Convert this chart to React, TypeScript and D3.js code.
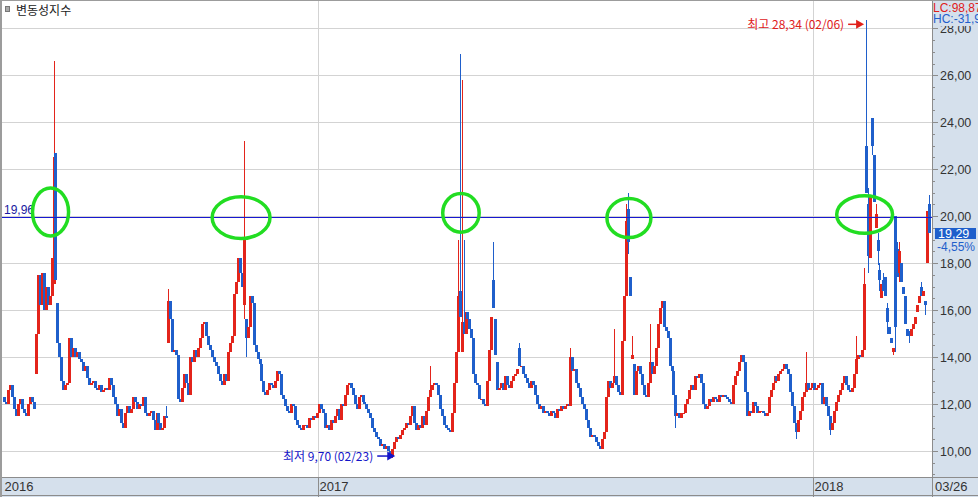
import * as d3 from "d3";

const W = 978;
const H = 497;
const AXIS_X = 932; // left edge of the price panel
const STRIP_Y = 477; // top of the date strip
const PANEL = "#d5e0ec";
const UP = "#e3241b";
const DOWN = "#1f5fcb";
const NUM_FONT = "'Liberation Sans Narrow', 'Liberation Sans', Arial, sans-serif";
const KR_FONT = "'Noto Sans CJK KR', 'Noto Sans', sans-serif";

// daily closes, late May 2016 .. 2018-03-26
const closes: number[] = [
  12.1, 12.0, 12.6, 12.8, 12.3, 11.8, 11.5, 12.0, 12.2, 11.8,
  11.6, 11.5, 12.0, 12.3, 12.1, 11.8, 15.0, 17.5, 16.2, 17.6,
  16.0, 17.0, 16.2, 16.6, 18.2, 22.5, 17.3, 14.6, 14.0, 13.0,
  12.6, 12.8, 12.9, 14.8, 14.0, 14.4, 14.0, 14.2, 13.9, 13.8,
  13.4, 13.6, 13.1, 12.8, 12.9, 13.0, 12.7, 12.6, 12.8, 12.5,
  12.6, 12.7, 12.6, 13.1, 12.8, 12.3, 12.0, 11.5, 11.8, 11.2,
  11.0, 11.6, 11.9, 11.6, 11.8, 12.3, 12.1, 11.8, 12.0, 11.9,
  12.3, 11.6, 11.5, 11.6, 11.7, 11.3, 10.9, 11.6, 11.2, 10.9,
  11.0, 11.5, 11.4, 16.4, 15.6, 14.2, 14.3, 14.1, 12.2, 12.1,
  12.7, 13.3, 12.9, 12.4, 14.0, 13.8, 14.3, 14.0, 14.4, 14.8,
  15.4, 15.5, 14.9, 14.5, 14.3, 14.0, 13.8, 13.6, 13.3, 13.0,
  12.8, 13.3, 13.0, 14.2, 14.6, 14.9, 16.7, 17.2, 18.2, 17.6,
  17.0, 19.0, 14.8, 15.3, 16.6, 16.3, 14.5, 14.2, 13.9, 13.7,
  13.0, 12.5, 12.4, 12.6, 12.9, 12.8, 12.7, 13.0, 13.4, 13.3,
  12.4, 12.2, 11.9, 11.7, 11.6, 12.0, 11.9, 11.3, 11.1, 11.0,
  10.9, 11.1, 11.1, 11.0, 11.4, 11.3, 11.5, 11.4, 11.6, 12.0,
  11.8, 11.6, 11.0, 11.1, 10.9, 11.3, 11.2, 11.5, 11.8, 11.3,
  12.0, 11.9, 12.4, 12.8, 12.9, 12.7, 12.4, 12.0, 11.8, 12.3,
  12.4, 12.1, 12.0, 11.8, 11.6, 11.4, 11.0, 10.8, 10.6, 10.5,
  10.2, 10.3, 10.1, 10.2, 10.0, 9.8, 10.1, 10.4, 10.6, 10.5,
  10.7, 10.9, 11.0, 11.2, 11.1, 11.5, 11.9, 11.2, 10.9, 11.1,
  11.0, 11.5, 11.1, 11.7, 12.3, 12.6, 12.8, 12.9, 12.8, 12.4,
  11.8, 11.5, 11.1, 11.0, 10.9, 10.8, 11.6, 12.9, 14.2, 16.6,
  15.7, 15.5, 15.0, 15.9, 15.6, 15.2, 14.8, 13.3, 12.9, 12.8,
  12.2, 12.2, 12.0, 11.9, 13.0, 14.3, 15.7, 16.1, 14.1, 12.6,
  12.7, 12.9, 12.6, 13.2, 12.8, 12.7, 13.0, 13.2, 13.3, 13.5,
  13.6, 13.6, 13.3, 13.1, 12.9, 12.7, 13.0, 12.8, 12.4, 12.0,
  11.8, 11.9, 11.6, 11.7, 11.6, 11.5, 11.7, 11.6, 11.4, 11.8,
  11.7, 11.9, 11.8, 11.9, 12.0, 11.9, 14.0, 13.4, 13.5, 12.9,
  12.7, 12.3, 12.0, 11.8, 11.3, 11.0, 10.6, 10.7, 10.6, 10.4,
  10.2, 10.1, 10.5, 10.8, 12.3, 13.0, 12.7, 12.9, 13.2, 12.8,
  12.5, 12.4, 14.7, 16.6, 19.8, 18.9, 16.6, 14.1, 12.4, 13.4,
  13.6, 13.3, 12.8, 12.4, 12.3, 12.9, 13.8, 13.3, 13.6, 14.4,
  15.4, 16.1, 16.4, 15.3, 15.1, 14.8, 13.6, 13.4, 12.4, 11.5,
  11.6, 11.4, 11.6, 11.6, 12.0, 12.2, 12.6, 12.8, 12.6, 13.2,
  13.1, 13.3, 12.9, 12.0, 11.8, 11.9, 12.2, 12.1, 12.3, 12.2,
  12.1, 12.4, 12.3, 12.4, 12.3, 12.2, 12.1, 12.0, 12.8, 13.2,
  13.4, 13.8, 14.1, 13.8, 12.5, 11.5, 11.7, 11.6, 12.1, 11.9,
  11.6, 11.7, 11.7, 11.6, 11.5, 11.6, 12.3, 12.6, 12.9, 13.2,
  13.0, 13.3, 13.4, 13.5, 13.7, 13.5, 13.3, 12.5, 11.9, 11.2,
  10.8, 11.3, 11.7, 12.3, 12.5, 12.9, 12.6, 12.7, 12.9, 12.6,
  12.7, 12.8, 12.9, 12.0, 12.3, 11.9, 11.5, 10.9, 11.2, 11.7,
  12.1, 12.4, 12.6, 12.9, 13.2, 12.8, 12.6, 12.5, 12.7, 13.3,
  13.9, 14.1, 14.0, 14.3, 17.1, 21.0, 18.3, 20.9, 23.0, 20.6,
  20.1, 18.5, 17.3, 17.1, 16.8, 16.6, 15.5, 15.0, 14.6, 14.4,
  15.3, 17.4, 18.5, 17.2, 16.7, 15.4, 14.9, 14.9, 15.2, 15.4,
  15.7, 16.2, 16.6, 16.6, 16.8, 16.2, 20.21, 19.29,
];

// candles that did not open at the previous close: [day index, open]
const opens: [number, number][] = [
  [0, 12.3], [16, 13.3], [25, 17.1], [26, 22.7], [27, 16.3], [83, 14.6],
  [121, 16.2], [122, 15.6], [230, 16.8], [231, 14.2], [247, 17.3], [248, 15.6],
  [249, 13.8], [260, 14.4], [315, 20.3], [316, 17.4], [317, 13.9], [318, 13.7],
  [435, 23.0], [436, 20.5], [437, 18.2], [438, 24.2], [439, 22.6], [440, 19.5],
  [441, 19.0], [442, 17.7], [443, 16.5], [444, 17.3], [445, 17.4], [446, 16.1],
  [447, 15.3], [448, 14.8], [449, 14.2], [450, 20.0], [451, 18.6], [452, 17.6],
  [453, 18.0], [454, 17.0], [455, 16.6], [456, 15.2], [457, 15.1], [458, 14.9],
  [459, 15.2], [460, 15.4], [461, 15.9], [462, 16.3], [463, 17.0], [464, 16.6],
  [465, 16.4], [466, 18.0], [467, 20.5],
];

// visible upper wicks: [day index, high]
const highs: [number, number][] = [
  [25, 26.6], [82, 11.9], [83, 16.9], [121, 23.2], [215, 13.6], [229, 19.0],
  [230, 26.9], [231, 25.8], [232, 19.0], [247, 18.9], [260, 14.6], [286, 14.4],
  [308, 15.2], [314, 20.5], [315, 21.0], [317, 14.9], [326, 15.4], [405, 14.2],
  [430, 14.9], [434, 17.8], [435, 28.34], [436, 21.2], [438, 24.2], [440, 20.5],
  [441, 19.3], [442, 18.0], [444, 17.6], [446, 16.3], [451, 18.9], [452, 18.9],
  [463, 17.2], [467, 20.9],
];

// visible lower wicks: [day index, low]
const lows: [number, number][] = [
  [121, 15.6], [122, 14.0], [196, 9.7], [315, 18.4], [339, 11.0], [400, 10.5],
  [417, 10.7], [436, 17.6], [438, 22.6], [441, 17.9], [442, 16.8], [446, 15.0],
  [449, 14.1], [450, 14.2], [452, 17.2], [457, 14.6], [465, 15.8],
];

const yearTicks = [
  { label: "2016", idx: 0 },
  { label: "2017", idx: 159 },
  { label: "2018", idx: 409 },
];
const lastDate = "03/26";
const extremeDates = { high: "02/06", low: "02/23" };
const refLevel = 19.96;
const headerLabels = ["LC:98,87", "HC:-31,9"];

// green circles drawn by the analyst, in day/value units
const circled = [
  { idx: 23.5, value: 20.18, spanIdx: 9.1, spanValue: 1.02 },
  { idx: 119.7, value: 19.94, spanIdx: 14.6, spanValue: 0.89 },
  { idx: 230.7, value: 20.14, spanIdx: 9.2, spanValue: 0.82 },
  { idx: 315.5, value: 19.92, spanIdx: 11.1, spanValue: 0.83 },
  { idx: 434.5, value: 20.07, spanIdx: 14.1, spanValue: 0.8 },
];

type Candle = { i: number; o: number; h: number; l: number; c: number };

function buildCandles(): Candle[] {
  const openMap = new Map(opens);
  const highMap = new Map(highs);
  const lowMap = new Map(lows);
  return closes.map((c, i) => {
    const o = openMap.get(i) ?? closes[i - 1];
    const h = Math.max(o, c, highMap.get(i) ?? -Infinity);
    const l = Math.min(o, c, lowMap.get(i) ?? Infinity);
    return { i, o, h, l, c };
  });
}

const fmt = (v: number) => v.toFixed(2).replace(".", ",");

export default function App() {
  const candles = buildCandles();
  const x = d3.scaleLinear().domain([0, candles.length - 1]).range([4, 929]);
  const y = d3.scaleLinear().domain([10, 28]).range([451, 28.3]);

  const gridValues = d3.range(10, 28.01, 2);
  const minorValues = d3.range(9, 28.6, 0.5).filter((v) => y(v) > 2 && y(v) < STRIP_Y);

  const hiIdx = d3.maxIndex(candles, (d) => d.h);
  const loIdx = d3.minIndex(candles, (d) => d.l);
  const hi = candles[hiIdx];
  const lo = candles[loIdx];
  const last = candles[candles.length - 1];
  const prev = candles[candles.length - 2];
  const change = ((last.c - prev.c) / prev.c) * 100;

  const hiTip = x(hiIdx) - 1.5;
  const hiY = y(hi.h) + 4;
  const loTip = x(loIdx) + 3;
  const loY = y(lo.l) - 2;
  const refY = Math.round(y(refLevel)) + 0.5;
  const lastY = Math.round(y(last.c));

  return (
    <svg
      width={W}
      height={H}
      style={{ position: "absolute", left: 0, top: 0, background: "#fff" }}
    >
      <defs>
        <clipPath id="plot">
          <rect x={2} y={0} width={AXIS_X - 2} height={STRIP_Y} />
        </clipPath>
      </defs>

      {/* grid */}
      <g shapeRendering="crispEdges" stroke="#d3d3d3">
        {gridValues.map((v) => (
          <line key={v} x1={2} x2={AXIS_X} y1={Math.round(y(v)) + 0.5} y2={Math.round(y(v)) + 0.5} />
        ))}
        {yearTicks
          .filter((t) => t.idx > 0)
          .map((t) => (
            <line
              key={t.label}
              x1={Math.round(x(t.idx)) - 0.5}
              x2={Math.round(x(t.idx)) - 0.5}
              y1={0}
              y2={STRIP_Y}
            />
          ))}
      </g>

      {/* candles */}
      <g clipPath="url(#plot)" shapeRendering="crispEdges">
        {candles.map((d) => {
          const col = d.c >= d.o ? UP : DOWN;
          const cx = Math.round(x(d.i));
          const top = Math.round(y(Math.max(d.o, d.c)));
          const bot = Math.round(y(Math.min(d.o, d.c)));
          return (
            <g key={d.i}>
              <line x1={cx + 0.5} x2={cx + 0.5} y1={y(d.h)} y2={y(d.l)} stroke={col} />
              <rect x={cx - 1} y={top} width={3} height={Math.max(1, bot - top)} fill={col} />
            </g>
          );
        })}
      </g>

      {/* reference level */}
      <line x1={2} x2={AXIS_X} y1={refY} y2={refY} stroke="#1818d0" strokeWidth={1} shapeRendering="crispEdges" />
      <text x={4} y={refY - 3.5} fontFamily={NUM_FONT} fontSize={12} fill="#1a1aa0">
        {fmt(refLevel)}
      </text>

      {/* circles */}
      <g fill="none" stroke="#22dd22" strokeWidth={3.5}>
        {circled.map((c, k) => (
          <ellipse
            key={k}
            cx={x(c.idx)}
            cy={y(c.value)}
            rx={x(c.idx + c.spanIdx) - x(c.idx)}
            ry={y(c.value - c.spanValue) - y(c.value)}
          />
        ))}
      </g>

      {/* high / low marks */}
      <g fill="#e0201a" stroke="#e0201a">
        <line x1={hiTip - 16} x2={hiTip - 6} y1={hiY} y2={hiY} strokeWidth={1.5} />
        <polygon points={`${hiTip},${hiY} ${hiTip - 8},${hiY - 4.5} ${hiTip - 8},${hiY + 4.5}`} stroke="none" />
        <text x={hiTip - 20} y={hiY + 4.5} textAnchor="end" fontFamily={KR_FONT} fontSize={12} stroke="none">
          {`최고 ${fmt(hi.h)} (${extremeDates.high})`}
        </text>
      </g>
      <g fill="#1414c8" stroke="#1414c8">
        <line x1={loTip - 18} x2={loTip - 6} y1={loY} y2={loY} strokeWidth={1.5} />
        <polygon points={`${loTip},${loY} ${loTip - 8},${loY - 4.5} ${loTip - 8},${loY + 4.5}`} stroke="none" />
        <text x={loTip - 22} y={loY + 4.5} textAnchor="end" fontFamily={KR_FONT} fontSize={12} stroke="none">
          {`최저 ${fmt(lo.l)} (${extremeDates.low})`}
        </text>
      </g>

      {/* title */}
      <rect x={5.5} y={6.5} width={4} height={5} fill="#aaa" stroke="#777" />
      <text x={16} y={15} fontFamily={KR_FONT} fontSize={12} fill="#222">
        변동성지수
      </text>

      {/* price panel */}
      <rect x={AXIS_X} y={0} width={W - AXIS_X} height={STRIP_Y} fill={PANEL} />
      <g shapeRendering="crispEdges" stroke="#8c8c8c">
        <line x1={AXIS_X + 0.5} x2={AXIS_X + 0.5} y1={0} y2={STRIP_Y} />
        {minorValues.map((v) => {
          const major = v % 2 === 0;
          const yy = Math.round(y(v)) + 0.5;
          return <line key={v} x1={AXIS_X} x2={AXIS_X + (major ? 6 : 3)} y1={yy} y2={yy} />;
        })}
      </g>
      {gridValues.map((v) => (
        <text key={v} x={940} y={y(v) + 4.5} fontFamily={NUM_FONT} fontSize={12.5} fill="#333">
          {fmt(v)}
        </text>
      ))}
      <rect x={AXIS_X + 1} y={0} width={W - AXIS_X} height={26} fill={PANEL} />
      <text x={933} y={11.5} fontFamily={NUM_FONT} fontSize={12} fill="#e0201a">
        {headerLabels[0]}
      </text>
      <text x={933} y={23} fontFamily={NUM_FONT} fontSize={12} fill="#1f5fcb">
        {headerLabels[1]}
      </text>
      <rect x={935} y={lastY - 5} width={41} height={11} fill="#1f5fcb" />
      <text x={938} y={lastY + 5} fontFamily={NUM_FONT} fontSize={12.5} fill="#fff">
        {fmt(last.c)}
      </text>
      <text x={937} y={lastY + 18} fontFamily={NUM_FONT} fontSize={12} fill="#1f5fcb">
        {`${fmt(change)}%`}
      </text>

      {/* date strip */}
      <rect x={0} y={STRIP_Y} width={W} height={H - STRIP_Y} fill={PANEL} />
      <g shapeRendering="crispEdges" stroke="#8c8c8c">
        <line x1={0} x2={W} y1={STRIP_Y + 0.5} y2={STRIP_Y + 0.5} />
        <line x1={0} x2={W} y1={H - 1.5} y2={H - 1.5} />
        {yearTicks
          .filter((t) => t.idx > 0)
          .map((t) => (
            <line
              key={t.label}
              x1={Math.round(x(t.idx)) - 0.5}
              x2={Math.round(x(t.idx)) - 0.5}
              y1={STRIP_Y}
              y2={H}
            />
          ))}
        <line x1={AXIS_X + 0.5} x2={AXIS_X + 0.5} y1={STRIP_Y} y2={H} />
      </g>
      {yearTicks.map((t) => (
        <text key={t.label} x={Math.round(x(t.idx)) + 0.5} y={491} fontFamily={NUM_FONT} fontSize={13} fill="#333">
          {t.label}
        </text>
      ))}
      <text x={935} y={491} fontFamily={NUM_FONT} fontSize={13} fill="#333">
        {lastDate}
      </text>

      {/* frame */}
      <rect x={0} y={0} width={2} height={H} fill="#9c9c9c" />
      <rect x={0} y={0} width={W} height={1} fill="#9c9c9c" />
    </svg>
  );
}
